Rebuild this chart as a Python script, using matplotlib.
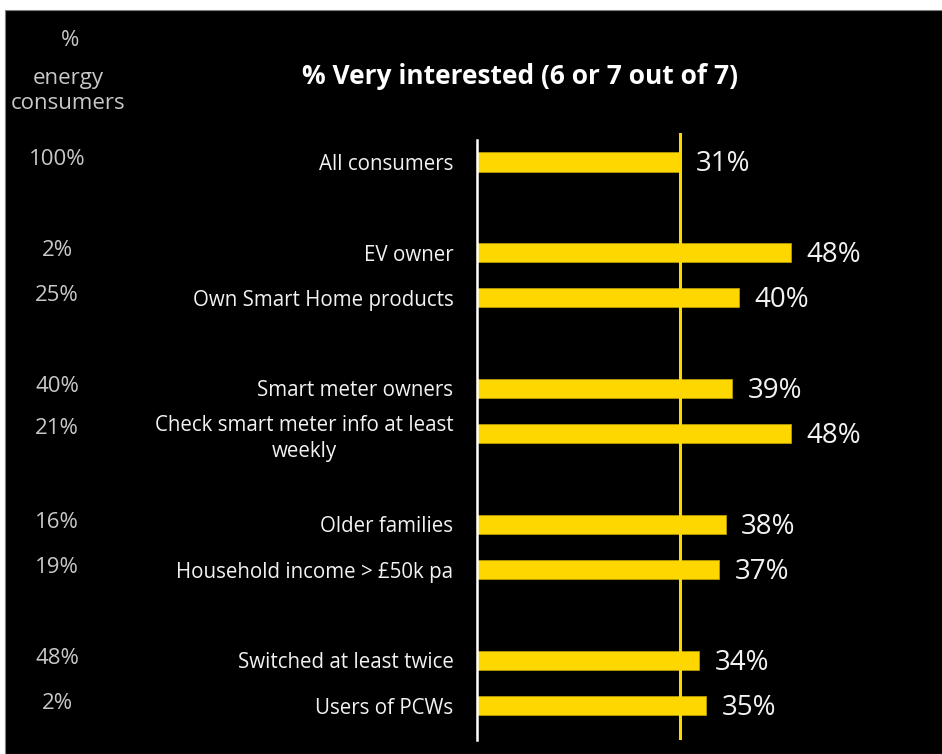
import matplotlib
matplotlib.use('Agg')
import matplotlib.pyplot as plt
from matplotlib.patches import Rectangle
from matplotlib.transforms import blended_transform_factory

# ── Data ──────────────────────────────────────────────────────────────
categories = ['All consumers', 'EV owner', 'Own Smart Home products',
              'Smart meter owners', 'Check smart meter info at least\nweekly',
              'Older families', 'Household income > £50k pa',
              'Switched at least twice', 'Users of PCWs']
very_interested = [31, 48, 40, 39, 48, 38, 37, 34, 35]
consumer_share = ['100%', '2%', '25%', '40%', '21%', '16%', '19%', '48%', '2%']
# slot index of each row (blank slots separate the groups)
slots = [0, 2, 3, 5, 6, 8, 9, 11, 12]
reference = very_interested[0]

YELLOW = '#FFD700'
GREY_TXT = '#C8C8C8'
W, H = 942, 754

fig = plt.figure(figsize=(W / 100, H / 100), dpi=100, facecolor='white')
fig.patches.append(Rectangle((5 / W, 0), 1, 1 - 10 / H, transform=fig.transFigure,
                             facecolor='black', edgecolor='#808080',
                             linewidth=0.8, zorder=-1))

# axes: x=0 at px 477, 6.54 px per %, top at px 133, bottom at px 740
x0, ppp = 477, 6.54
ax = fig.add_axes([x0 / W, 1 - 740 / H, (W - x0) / W, (740 - 133) / H])
ax.set_facecolor('none')
ax.set_xlim(0, (W - x0) / ppp)
y_top = (133 - 162) / 45.3
y_bot = (740 - 162) / 45.3
ax.set_ylim(y_bot, y_top)

ax.barh(slots, very_interested, height=0.42, color=YELLOW,
        edgecolor='#B89B00', linewidth=0.6, zorder=2)
ax.axvline(reference, color=YELLOW, linewidth=2.2, zorder=3)
ax.plot([0, 0], [y_bot, (140 - 162) / 45.3], color='white', linewidth=1.8,
        zorder=4, clip_on=False)

for s, v in zip(slots, very_interested):
    ax.text(v + 2.4, s + 0.05, f'{v}%', color='#F2F2F2', fontsize=20,
            family='Open Sans', va='center', ha='left')

ax.set_yticks(slots)
ax.set_yticklabels(categories)
ax.tick_params(axis='y', length=0, pad=17, labelcolor='#F2F2F2', labelsize=14.8)
for lab in ax.get_yticklabels():
    lab.set_family('Open Sans')
    lab.set_multialignment('center')
    lab.set_linespacing(1.3)
ax.set_xticks([])
for sp in ax.spines.values():
    sp.set_visible(False)

# left column: share of energy consumers
tr = blended_transform_factory(fig.transFigure, ax.transData)
for s, share, cat in zip(slots, consumer_share, categories):
    dy = -0.12 if '\n' in cat else -0.05
    ax.text(57 / W, s + dy, share, transform=tr, color=GREY_TXT,
            fontsize=16, family='Open Sans', ha='center', va='center')

fig.text(70 / W, 1 - 40 / H, '%', color=GREY_TXT, fontsize=16,
         family='Open Sans', ha='center', va='center')
fig.text(68 / W, 1 - 91 / H, 'energy\nconsumers', color=GREY_TXT,
         fontsize=16, family='Open Sans', ha='center', va='center',
         linespacing=1.25)

fig.text(520 / W, 1 - 77 / H, '% Very interested (6 or 7 out of 7)',
         color='white', fontsize=19, fontweight='bold', family='Open Sans',
         ha='center', va='center')

plt.savefig('out.png', dpi=100, facecolor=fig.get_facecolor())
